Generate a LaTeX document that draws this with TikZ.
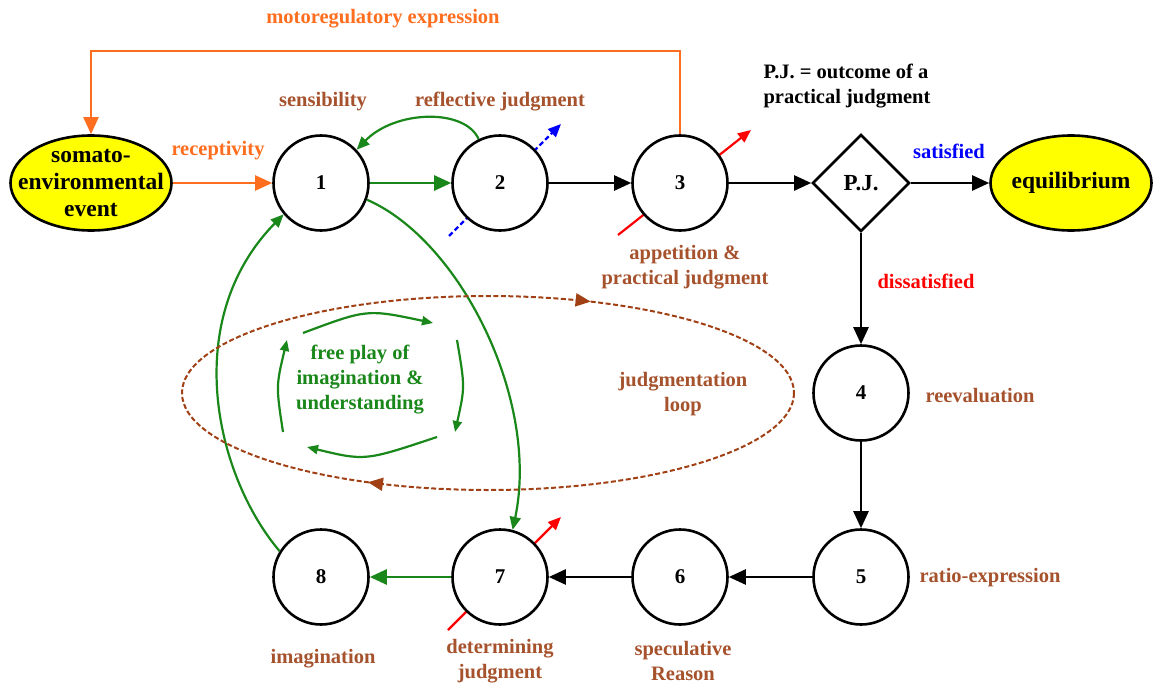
\documentclass[tikz,border=0pt]{standalone}
\usepackage{fontspec}
\setmainfont{Liberation Serif}
\usetikzlibrary{arrows.meta,shapes.geometric,decorations.markings}
\definecolor{org}{RGB}{255,110,30}
\definecolor{brn}{RGB}{165,82,45}
\definecolor{grn}{RGB}{25,135,25}
\definecolor{lbrn}{RGB}{160,64,20}
\definecolor{yel}{RGB}{255,255,0}
\begin{document}
\begin{tikzpicture}[x=1pt,y=-1pt,
  every node/.style={font=\bfseries\fontsize{20.5}{25}\selectfont, inner sep=0pt, align=center},
  circ/.style={circle, draw, line width=2.6pt, fill=white, minimum size=95pt, font=\bfseries\fontsize{21}{25}\selectfont},
  oval/.style={ellipse, draw, line width=2.6pt, fill=yel, inner xsep=-40pt, inner ysep=-30pt, minimum width=161pt, minimum height=95pt, font=\bfseries\fontsize{23.5}{27}\selectfont},
  dia/.style={diamond, draw, line width=2.6pt, fill=white, minimum width=97pt, minimum height=97pt, font=\bfseries\fontsize{23}{27}\selectfont},
  lab/.style={text=brn},
  bigtip/.style={-{Triangle[length=17pt,width=15pt]}},
  smalltip/.style={-{Triangle[length=13pt,width=11pt]}},
  tinytip/.style={-{Triangle[length=11pt,width=9pt]}},
  blk/.style={line width=2.4pt, bigtip},
  grnarr/.style={grn, line width=2.6pt, bigtip},
  grncurve/.style={grn, line width=2.2pt, smalltip},
  fparc/.style={grn, line width=2.2pt, tinytip},
  stub/.style={line width=2.2pt, smalltip}
]
\useasboundingbox (0,0) rectangle (1154,685);

% stub coordinates
\coordinate (b2a) at (449,236);
\coordinate (b2b) at (561,124);
\coordinate (r3a) at (618,235);
\coordinate (r3b) at (751,130);
\coordinate (r7a) at (448,630);
\coordinate (r7b) at (561,517);
\draw[stub, blue, dash pattern=on 5pt off 3pt] (b2a) -- (b2b);
\draw[stub, red] (r3a) -- (r3b);
\draw[stub, red] (r7a) -- (r7b);

% main nodes
\node[oval] (som) at (91,183) {somato-\\environmental\\event};
\node[circ] (n1) at (321,183) {1};
\node[circ] (n2) at (500,183) {2};
\node[circ] (n3) at (680,183) {3};
\node[dia]  (pj) at (861,183) {P.J.};
\node[oval] (eq) at (1071,183) {equilibrium};
\node[circ] (n4) at (861,393) {4};
\node[circ] (n5) at (861,577) {5};
\node[circ] (n6) at (680,577) {6};
\node[circ] (n7) at (500,577) {7};
\node[circ] (n8) at (321,577) {8};

% labels
\node[text=org] (tmot) at (383,19) {motoregulatory expression};
\node[text=org] (trec) at (218,151) {receptivity};
\node[lab] (tsen) at (323,102) {sensibility};
\node[lab] (tref) at (500,102) {reflective judgment};
\node[align=left] (tpj) at (847,86) {P.J. = outcome of a\\practical judgment};
\node[text=blue] (tsat) at (949,151) {satisfied};
\node[lab] (tapp) at (685,267) {appetition \&\\practical judgment};
\node[text=red] (tdis) at (926,281) {dissatisfied};
\node[lab] (tree) at (980,396) {reevaluation};
\node[lab] (tjud) at (683,394) {judgmentation\\loop};
\node[lab] (trat) at (990,578) {ratio-expression};
\node[lab] (tspe) at (683,661) {speculative\\Reason};
\node[lab] (tdet) at (500,661) {determining\\judgment};
\node[lab] (tima) at (323,659) {imagination};
\node[text=grn] (tfree) at (360,380) {free play of\\imagination \&\\understanding};

% connectors
\draw[org, line width=2.2pt, bigtip] (som.east) -- (n1.west);
\draw[org, line width=2.2pt, bigtip] (n3.north) -- ++(0,-83) -| (som.north);
\draw[grnarr] (n1.east) -- (n2.west);
\draw[blk] (n2.east) -- (n3.west);
\draw[blk] (n3.east) -- (pj.west);
\draw[blk] (pj.east) -- (eq.west);
\draw[blk] (pj.south) -- (n4.north);
\draw[blk] (n4.south) -- (n5.north);
\draw[blk] (n5.west) -- (n6.east);
\draw[blk] (n6.west) -- (n7.east);
\draw[grnarr] (n7.west) -- (n8.east);

\draw[grncurve] (n2.116) .. controls (465,108) and (395,110) .. (n1.43);
\draw[grncurve] (n1.-20) .. controls (460,240) and (540,400) .. (n7.75);
\draw[grncurve] (n8.148) .. controls (215,475) and (180,320) .. (n1.-140);

% free play arcs
\coordinate (f1) at (303,333);
\coordinate (f2) at (433,323);
\coordinate (f3) at (457,340);
\coordinate (f4) at (455,432);
\coordinate (f5) at (437,437);
\coordinate (f6) at (307,447);
\coordinate (f7) at (283,432);
\coordinate (f8) at (287,340);
\draw[fparc] (f1) .. controls (367,309) .. (f2);
\draw[fparc] (f3) .. controls (465,387) .. (f4);
\draw[fparc] (f5) .. controls (365,461) .. (f6);
\draw[fparc] (f7) .. controls (276,386) .. (f8);

% judgmentation loop
\coordinate (loopc) at (488,393);
\draw[lbrn, line width=2pt, dash pattern=on 5pt off 2.5pt,
  postaction={decorate},
  decoration={markings,
    mark=at position 0.339 with {\arrow{Triangle[length=15pt,width=13pt]}},
    mark=at position 0.826 with {\arrow{Triangle[length=15pt,width=13pt]}}}]
  (loopc) ellipse [x radius=306, y radius=97];
\end{tikzpicture}
\end{document}
